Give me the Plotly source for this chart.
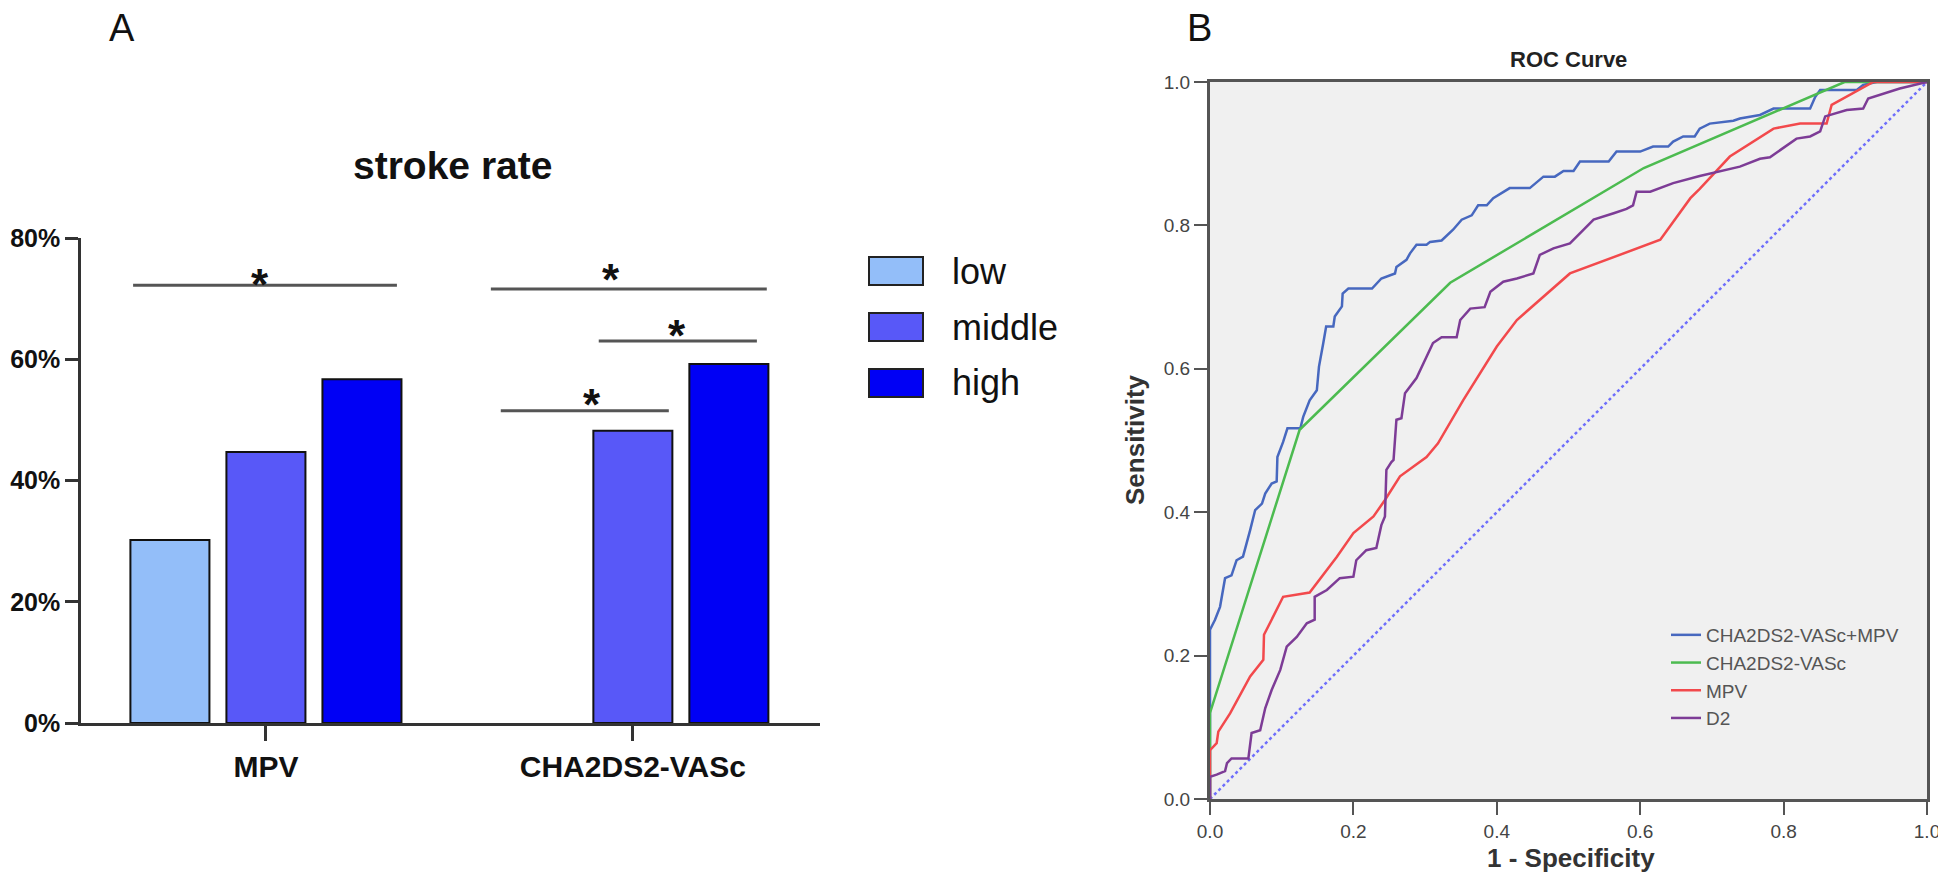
import plotly.graph_objects as go

# page has an 8px body margin; lay the figure out in page pixels
PAGE_OFF = 8
W, H = 1946 - PAGE_OFF, 891 - PAGE_OFF
FONT = "Arial, Liberation Sans, Helvetica, sans-serif"

# ---------------- Panel A data ----------------
categories = ["MPV", "CHA2DS2-VASc"]
groups = ["low", "middle", "high"]
low_rate = [30.2, 0.0]
middle_rate = [44.7, 48.2]
high_rate = [56.7, 59.2]
bar_colors = ["#93bef9", "#5858f8", "#0000f5"]
y_ticks_a = [0, 20, 40, 60, 80]
y_ticklabels_a = ["0%", "20%", "40%", "60%", "80%"]

# significance brackets (x in category units, y in %)
sig_x0 = [-0.362, 0.613, 0.907, 0.640]
sig_x1 = [0.357, 1.365, 1.338, 1.098]
sig_y = [72.2, 71.6, 63.0, 51.5]
star_x = [-0.016, 0.940, 1.120, 0.888]
star_y = [74.2, 75.0, 65.8, 54.3]

# ---------------- Panel B data (ROC) ----------------
combo_fpr = [0, 0, 0.007, 0.014, 0.021, 0.030, 0.037, 0.046, 0.056, 0.063,
             0.0725, 0.077, 0.086, 0.093, 0.094, 0.102, 0.108, 0.126, 0.130, 0.139,
             0.149, 0.152, 0.158, 0.162, 0.172, 0.174, 0.184, 0.185, 0.193, 0.226,
             0.239, 0.258, 0.260, 0.274, 0.279, 0.288, 0.302, 0.307, 0.323, 0.339,
             0.351, 0.365, 0.374, 0.386, 0.395, 0.418, 0.446, 0.465, 0.481, 0.493,
             0.507, 0.516, 0.556, 0.567, 0.600, 0.618, 0.639, 0.646, 0.660, 0.676,
             0.683, 0.697, 0.730, 0.739, 0.767, 0.786, 0.837, 0.844, 0.851, 0.902,
             0.911, 0.930, 1.0]
combo_tpr = [0, 0.236, 0.250, 0.268, 0.308, 0.312, 0.333, 0.338, 0.375, 0.403,
             0.412, 0.426, 0.440, 0.443, 0.477, 0.498, 0.517, 0.517, 0.533, 0.556,
             0.570, 0.603, 0.636, 0.659, 0.659, 0.673, 0.687, 0.705, 0.712, 0.712,
             0.726, 0.733, 0.742, 0.752, 0.761, 0.773, 0.773, 0.777, 0.779, 0.794,
             0.808, 0.814, 0.828, 0.828, 0.838, 0.852, 0.852, 0.868, 0.868, 0.876,
             0.876, 0.889, 0.889, 0.903, 0.903, 0.910, 0.910, 0.917, 0.924, 0.924,
             0.935, 0.942, 0.946, 0.949, 0.954, 0.963, 0.963, 0.979, 0.989, 0.989,
             0.996, 1.0, 1.0]

cha_fpr = [0, 0, 0.125, 0.335, 0.605, 0.885, 1.0]
cha_tpr = [0, 0.12, 0.515, 0.72, 0.88, 1.0, 1.0]

mpv_fpr = [0, 0, 0.0093, 0.0116, 0.028, 0.056, 0.0744, 0.0753, 0.102, 0.139,
           0.177, 0.200, 0.228, 0.244, 0.265, 0.302, 0.318, 0.353, 0.400, 0.428,
           0.502, 0.628, 0.670, 0.683, 0.725, 0.786, 0.823, 0.860, 0.867, 0.893,
           0.925, 1.0]
mpv_tpr = [0, 0.068, 0.078, 0.094, 0.1195, 0.171, 0.194, 0.229, 0.282, 0.288,
           0.338, 0.371, 0.394, 0.417, 0.450, 0.477, 0.496, 0.556, 0.631, 0.668,
           0.733, 0.780, 0.838, 0.851, 0.896, 0.935, 0.942, 0.942, 0.968, 0.982,
           1.0, 1.0]

d2_fpr = [0, 0, 0.0093, 0.021, 0.0237, 0.030, 0.0535, 0.058, 0.070, 0.077,
          0.086, 0.098, 0.107, 0.121, 0.135, 0.146, 0.146, 0.163, 0.181, 0.200,
          0.204, 0.218, 0.232, 0.239, 0.244, 0.246, 0.253, 0.256, 0.260, 0.267,
          0.272, 0.288, 0.311, 0.323, 0.344, 0.349, 0.363, 0.383, 0.391, 0.409,
          0.428, 0.451, 0.460, 0.479, 0.502, 0.535, 0.563, 0.581, 0.590, 0.595,
          0.614, 0.646, 0.683, 0.739, 0.767, 0.781, 0.818, 0.837, 0.851, 0.858,
          0.888, 0.911, 0.918, 0.962, 1.0]
d2_tpr = [0, 0.031, 0.034, 0.039, 0.050, 0.0565, 0.0565, 0.092, 0.096, 0.1265,
          0.152, 0.180, 0.2125, 0.226, 0.245, 0.250, 0.282, 0.2915, 0.308, 0.310,
          0.333, 0.347, 0.350, 0.382, 0.394, 0.459, 0.470, 0.473, 0.529, 0.531,
          0.566, 0.587, 0.636, 0.644, 0.644, 0.668, 0.684, 0.686, 0.7075, 0.7215,
          0.726, 0.733, 0.759, 0.768, 0.775, 0.808, 0.817, 0.823, 0.828, 0.847,
          0.847, 0.859, 0.869, 0.882, 0.893, 0.895, 0.921, 0.924, 0.931, 0.952,
          0.961, 0.963, 0.977, 0.991, 1.0]

ref_line = [0, 1]
roc_names = ["CHA2DS2-VASc+MPV", "CHA2DS2-VASc", "MPV", "D2"]
roc_colors = ["#4768bf", "#4cbb50", "#f2494c", "#7d3c96"]
roc_ticks = [0, 0.2, 0.4, 0.6, 0.8, 1.0]

assert len(combo_fpr) == len(combo_tpr)
assert len(mpv_fpr) == len(mpv_tpr)
assert len(d2_fpr) == len(d2_tpr)


def px(x):
    return (x - PAGE_OFF) / W


def py(y):
    return 1 - (y - PAGE_OFF) / H


fig = go.Figure()

# ---------------- Panel A bars ----------------
for name, vals, col in zip(groups, [low_rate, middle_rate, high_rate], bar_colors):
    outline = [2 if v > 0 else 0 for v in vals]
    fig.add_trace(go.Bar(
        x=[0, 1], y=vals, name=name,
        marker=dict(color=col, line=dict(color="#111111", width=outline)),
        xaxis="x", yaxis="y", showlegend=False))

# ---------------- Panel B curves ----------------
fig.add_trace(go.Scatter(x=ref_line, y=ref_line, mode="lines", showlegend=False,
                         line=dict(color="#6f6ffb", width=2.5, dash="dot"),
                         xaxis="x2", yaxis="y2"))
for name, xs, ys, col in zip(roc_names, [combo_fpr, cha_fpr, mpv_fpr, d2_fpr],
                              [combo_tpr, cha_tpr, mpv_tpr, d2_tpr], roc_colors):
    fig.add_trace(go.Scatter(x=xs, y=ys, mode="lines", name=name,
                             line=dict(color=col, width=2.5),
                             xaxis="x2", yaxis="y2"))

shapes = []
annotations = []

# panel B background
shapes.append(dict(type="rect", xref="x2 domain", yref="y2 domain", x0=0, x1=1, y0=0, y1=1,
                   fillcolor="#f0f0f0", line=dict(width=0), layer="below"))

# significance lines
for x0, x1, y in zip(sig_x0, sig_x1, sig_y):
    shapes.append(dict(type="line", xref="x", yref="y", x0=x0, x1=x1, y0=y, y1=y,
                       line=dict(color="#555555", width=3)))
for x, y in zip(star_x, star_y):
    annotations.append(dict(xref="x", yref="y", x=x, y=y, text="*", showarrow=False,
                            font=dict(family=FONT, size=44, color="#111111", weight="bold"),
                            xanchor="center", yanchor="middle", yshift=-11))

# manual legend for panel A
leg_rows = [271, 327, 383]
for g, col, yc in zip(groups, bar_colors, leg_rows):
    shapes.append(dict(type="rect", xref="paper", yref="paper",
                       x0=px(869), x1=px(923), y0=py(yc - 14), y1=py(yc + 14),
                       fillcolor=col, line=dict(color="#222222", width=2)))
    annotations.append(dict(xref="paper", yref="paper", x=px(950), y=py(yc), text=g,
                            showarrow=False, xanchor="left", yanchor="middle",
                            font=dict(family=FONT, size=36, color="#111111")))


def label(x, y, text, size, color="#111111", bold=False, angle=0):
    f = dict(family=FONT, size=size, color=color)
    if bold:
        f["weight"] = "bold"
    return dict(xref="paper", yref="paper", x=px(x), y=py(y), text=text, showarrow=False,
                xanchor="center", yanchor="middle", textangle=angle, font=f)


annotations += [
    label(122, 28, "A", 38),
    label(1199, 28, "B", 38),
    label(452, 166, "stroke rate", 39, bold=True),
    label(1568, 60, "ROC Curve", 22, color="#222222", bold=True),
    label(1571, 858, "1 - Specificity", 26, color="#333333", bold=True),
    label(1135, 440, "Sensitivity", 26, color="#333333", bold=True, angle=-90),
]

axis_common = dict(showgrid=False, zeroline=False, showline=True, automargin=False,
                   ticks="outside")

fig.update_layout(
    template="none",
    width=W, height=H,
    margin=dict(l=0, r=0, t=0, b=0, pad=0, autoexpand=False),
    paper_bgcolor="white", plot_bgcolor="rgba(0,0,0,0)",
    barmode="group", bargap=0.215, bargroupgap=0.177,
    font=dict(family=FONT),
    xaxis=dict(domain=[px(81), px(820)], range=[-0.504, 1.51], anchor="y",
               tickvals=[0, 1], ticktext=categories,
               linecolor="#333333", linewidth=2.5,
               ticklen=15, tickwidth=2.5, tickcolor="#333333",
               tickfont=dict(family=FONT, size=30, color="#111111", weight="bold"),
               **axis_common),
    yaxis=dict(domain=[py(723), py(238)], range=[0, 80], anchor="x",
               tickvals=y_ticks_a, ticktext=y_ticklabels_a,
               linecolor="#333333", linewidth=2.5,
               ticklen=13, tickwidth=2.5, tickcolor="#333333",
               tickfont=dict(family=FONT, size=25, color="#111111", weight="bold"),
               **axis_common),
    xaxis2=dict(domain=[px(1210), px(1927)], range=[0, 1], anchor="y2",
                tickvals=roc_ticks, tickformat=".1f", mirror=True,
                linecolor="#555555", linewidth=3,
                ticklen=13, tickwidth=2, tickcolor="#555555",
                tickfont=dict(family=FONT, size=19, color="#444444"),
                **axis_common),
    yaxis2=dict(domain=[py(799), py(82)], range=[0, 1], anchor="x2",
                tickvals=roc_ticks, tickformat=".1f", mirror=True,
                linecolor="#555555", linewidth=3,
                ticklen=13, tickwidth=2, tickcolor="#555555",
                tickfont=dict(family=FONT, size=19, color="#444444"),
                **axis_common),
    legend=dict(x=px(1666), y=py(616), xanchor="left", yanchor="top",
                bgcolor="rgba(0,0,0,0)", font=dict(family=FONT, size=19, color="#555555"),
                itemwidth=30, tracegroupgap=0),
    shapes=shapes,
    annotations=annotations,
)

fig.write_html("out.html")
